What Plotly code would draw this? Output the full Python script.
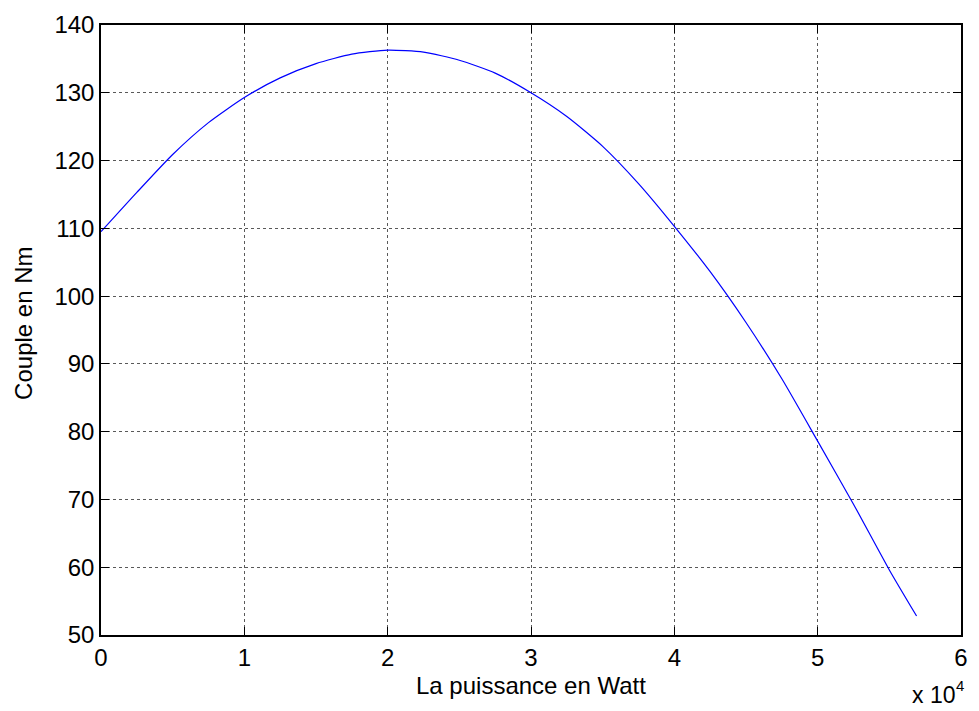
import plotly.graph_objects as go

# Torque vs. power curve (power in W, torque in N·m)
power_w = [0, 2500, 5000, 7500, 10000, 12500, 15000, 17500, 20000, 22500,
           25000, 27500, 30000, 32500, 35000, 37500, 40000, 42500, 45000,
           47500, 50000, 52500, 55000, 56900]
torque_nm = [109.5, 115.3, 120.9, 125.6, 129.3, 132.2, 134.3, 135.7, 136.3,
             136.0, 134.8, 132.9, 130.0, 126.5, 122.1, 116.6, 110.3, 103.6,
             96.1, 87.8, 78.6, 69.3, 59.6, 52.8]

x_tick_vals = [0, 10000, 20000, 30000, 40000, 50000, 60000]
x_tick_text = ["0", "1", "2", "3", "4", "5", "6"]
y_tick_vals = [50, 60, 70, 80, 90, 100, 110, 120, 130, 140]

FONT = "Liberation Sans, Arial, Helvetica, sans-serif"
FS = 24

fig = go.Figure()
fig.add_trace(go.Scatter(
    x=power_w, y=torque_nm, mode="lines",
    line=dict(color="#0000ff", width=1.2, shape="spline", smoothing=0.6),
    showlegend=False, hoverinfo="x+y",
))

axis_common = dict(
    showline=True, linecolor="black", linewidth=1.5, mirror="ticks",
    ticks="inside", ticklen=8, tickcolor="black", tickwidth=1,
    showgrid=True, gridcolor="rgba(0,0,0,0.65)", griddash="dot", gridwidth=1,
    zeroline=False,
    tickfont=dict(family=FONT, size=FS, color="black"),
)

fig.update_xaxes(range=[0, 60000], tickvals=x_tick_vals, ticktext=x_tick_text,
                 **axis_common)
fig.update_yaxes(range=[50, 140], tickvals=y_tick_vals, **axis_common)

fig.update_layout(
    width=979, height=711,
    margin=dict(l=101, r=11, t=21, b=76),
    paper_bgcolor="white", plot_bgcolor="white",
    font=dict(family=FONT, size=FS, color="black"),
    annotations=[
        dict(text="La puissance en Watt", xref="paper", yref="paper",
             x=0.5, y=0, xanchor="center", yanchor="middle", yshift=-50,
             showarrow=False, font=dict(family=FONT, size=24, color="black")),
        dict(text="Couple en Nm", xref="paper", yref="paper",
             x=0, y=0.51, xanchor="center", yanchor="middle", xshift=-77,
             textangle=-90, showarrow=False,
             font=dict(family=FONT, size=FS, color="black")),
        # axis multiplier "x 10^4" drawn as base text plus raised exponent
        dict(text="x 10", xref="paper", yref="paper",
             x=1, y=0, xanchor="right", yanchor="bottom", xshift=-4, yshift=-75,
             showarrow=False, font=dict(family=FONT, size=23, color="black")),
        dict(text="4", xref="paper", yref="paper",
             x=1, y=0, xanchor="right", yanchor="middle", xshift=5, yshift=-50,
             showarrow=False, font=dict(family=FONT, size=15, color="black")),
    ],
)

fig.write_html("out.html")
